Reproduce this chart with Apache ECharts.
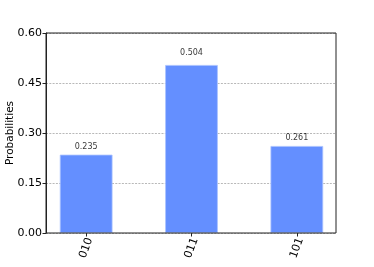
<!DOCTYPE html>
<html><head><meta charset="utf-8">
<script src="https://cdn.jsdelivr.net/npm/echarts@6/dist/echarts.min.js"></script>
<style>html,body{margin:0;padding:0;background:#fff}#c{width:374px;height:267px}</style>
</head><body><div id="c"></div>
<script>
const categories = ['010', '011', '101'];
const probabilities = [0.235, 0.504, 0.261];
const yTicks = [0, 0.15, 0.30, 0.45, 0.60];

const chart = echarts.init(document.getElementById('c'), null, {renderer: 'canvas'});
const font = 'DejaVu Sans';
// value labels sit at 1.05 x bar height (as in the source plot)
const labelPoints = probabilities.map((v, i) => [i, v * 1.05]);
chart.setOption({
  animation: false,
  backgroundColor: '#fff',
  grid: [
    {left: 33.5, width: 316, top: 33, height: 200, containLabel: false, outerBoundsMode: 'none'},
    {left: 46, width: 290, top: 33, height: 200, show: true, borderColor: '#222', borderWidth: 1,
     backgroundColor: 'transparent', z: 5, containLabel: false, outerBoundsMode: 'none'}
  ],
  xAxis: [
    {type: 'category', gridIndex: 0, data: categories, boundaryGap: true,
     axisLine: {show: false},
     axisTick: {show: true, alignWithLabel: true, length: 3.5, lineStyle: {color: '#222'}},
     axisLabel: {rotate: 70, fontFamily: font, fontSize: 11, color: '#000', margin: 15,
       align: 'center', verticalAlign: 'middle'}},
    {type: 'value', gridIndex: 1, show: false, min: 0, max: 1}
  ],
  yAxis: [
    {type: 'value', gridIndex: 0, min: yTicks[0], max: yTicks[yTicks.length - 1], interval: 0.15, show: false},
    {type: 'value', gridIndex: 1, min: yTicks[0], max: yTicks[yTicks.length - 1], interval: 0.15,
     name: 'Probabilities', nameLocation: 'middle', nameGap: 30, nameRotate: 90, nameMoveOverlap: false,
     nameTextStyle: {fontFamily: font, fontSize: 10.5, color: '#000'},
     axisLine: {show: true, lineStyle: {color: '#222'}},
     axisTick: {show: true, length: 3.5, lineStyle: {color: '#222'}},
     axisLabel: {fontFamily: font, fontSize: 11, color: '#000', margin: 4,
       formatter: v => v.toFixed(2)},
     splitLine: {show: true, lineStyle: {color: '#9a9a9a', type: [2, 1.3], width: 0.7}}}
  ],
  series: [{
    type: 'bar', xAxisIndex: 0, yAxisIndex: 0,
    data: probabilities, barWidth: '50%', z: 3,
    itemStyle: {color: '#648fff', borderColor: '#a9c1ff', borderWidth: 0.8}
  }, {
    type: 'scatter', xAxisIndex: 0, yAxisIndex: 0,
    data: labelPoints, symbolSize: 0, z: 4, silent: true,
    label: {show: true, position: 'top', distance: 0, fontFamily: font, fontSize: 8, color: '#000',
      formatter: p => probabilities[p.dataIndex].toFixed(3)}
  }]
});
</script></body></html>
